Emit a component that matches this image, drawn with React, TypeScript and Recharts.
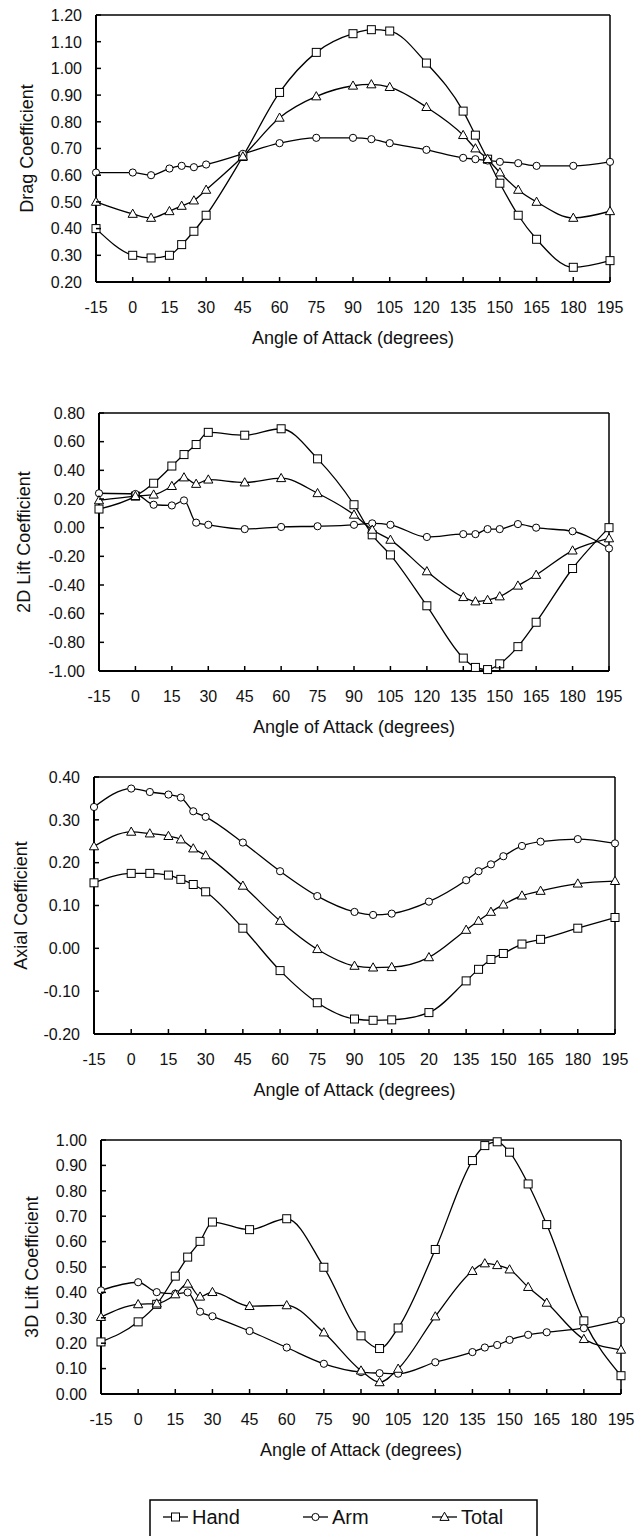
import React from 'react'
import { LineChart, Line, XAxis, YAxis, ReferenceLine } from 'recharts'

const FONT = '"Liberation Sans", Arial, sans-serif'

// angle of attack (degrees), shared by all panels
const ANGLES = [-15, 0, 7.5, 15, 20, 25, 30, 45, 60, 75, 90, 97.5, 105, 120, 135, 140, 145, 150, 157.5, 165, 180, 195]
const X_TICKS = [-15, 0, 15, 30, 45, 60, 75, 90, 105, 120, 135, 150, 165, 180, 195]

const DRAG_HAND = [0.4, 0.3, 0.29, 0.3, 0.34, 0.39, 0.45, 0.67, 0.91, 1.06, 1.13, 1.145, 1.14, 1.02, 0.84, 0.75, 0.66, 0.57, 0.45, 0.36, 0.255, 0.28]
const DRAG_ARM = [0.61, 0.61, 0.6, 0.625, 0.635, 0.63, 0.64, 0.68, 0.72, 0.74, 0.74, 0.735, 0.72, 0.695, 0.665, 0.66, 0.655, 0.65, 0.645, 0.635, 0.635, 0.65]
const DRAG_TOTAL = [0.5, 0.455, 0.44, 0.465, 0.485, 0.505, 0.545, 0.67, 0.815, 0.895, 0.935, 0.94, 0.93, 0.855, 0.75, 0.7, 0.66, 0.61, 0.545, 0.5, 0.44, 0.465]
const DRAG_TICKS = [0.2, 0.3, 0.4, 0.5, 0.6, 0.7, 0.8, 0.9, 1.0, 1.1, 1.2]

const LIFT2D_HAND = [0.13, 0.22, 0.31, 0.43, 0.51, 0.58, 0.665, 0.645, 0.69, 0.48, 0.16, -0.05, -0.19, -0.545, -0.91, -0.975, -0.99, -0.95, -0.83, -0.66, -0.285, 0.0]
const LIFT2D_ARM = [0.24, 0.235, 0.16, 0.155, 0.19, 0.035, 0.02, -0.01, 0.005, 0.01, 0.02, 0.03, 0.02, -0.065, -0.045, -0.045, -0.01, -0.01, 0.025, 0.0, -0.025, -0.145]
const LIFT2D_TOTAL = [0.19, 0.22, 0.23, 0.29, 0.35, 0.305, 0.335, 0.315, 0.345, 0.24, 0.09, -0.015, -0.085, -0.305, -0.485, -0.515, -0.505, -0.48, -0.405, -0.33, -0.16, -0.075]
const LIFT2D_TICKS = [-1.0, -0.8, -0.6, -0.4, -0.2, 0.0, 0.2, 0.4, 0.6, 0.8]

const AXIAL_HAND = [0.153, 0.175, 0.175, 0.171, 0.161, 0.149, 0.132, 0.047, -0.052, -0.127, -0.165, -0.168, -0.167, -0.15, -0.076, -0.049, -0.026, -0.012, 0.01, 0.021, 0.047, 0.072]
const AXIAL_ARM = [0.33, 0.373, 0.365, 0.359, 0.352, 0.32, 0.307, 0.247, 0.18, 0.122, 0.085, 0.078, 0.081, 0.109, 0.159, 0.18, 0.196, 0.215, 0.239, 0.249, 0.255, 0.245]
const AXIAL_TOTAL = [0.238, 0.272, 0.268, 0.262, 0.254, 0.233, 0.217, 0.146, 0.064, -0.002, -0.041, -0.045, -0.044, -0.021, 0.043, 0.064, 0.085, 0.102, 0.123, 0.134, 0.151, 0.157]
const AXIAL_TICKS = [-0.2, -0.1, 0.0, 0.1, 0.2, 0.3, 0.4]

const LIFT3D_HAND = [0.205, 0.284, 0.353, 0.464, 0.539, 0.601, 0.677, 0.647, 0.69, 0.499, 0.229, 0.179, 0.26, 0.569, 0.919, 0.978, 0.993, 0.952, 0.827, 0.667, 0.288, 0.072]
const LIFT3D_ARM = [0.408, 0.44, 0.401, 0.395, 0.4, 0.324, 0.306, 0.248, 0.183, 0.119, 0.086, 0.082, 0.08, 0.125, 0.165, 0.183, 0.193, 0.213, 0.233, 0.243, 0.259, 0.29]
const LIFT3D_TOTAL = [0.303, 0.353, 0.356, 0.392, 0.434, 0.383, 0.401, 0.346, 0.349, 0.242, 0.092, 0.046, 0.099, 0.305, 0.484, 0.514, 0.507, 0.49, 0.421, 0.359, 0.216, 0.174]
const LIFT3D_TICKS = [0.0, 0.1, 0.2, 0.3, 0.4, 0.5, 0.6, 0.7, 0.8, 0.9, 1.0]

const toRows = (hand: number[], arm: number[], total: number[]) =>
  ANGLES.map((angle, i) => ({ angle, hand: hand[i], arm: arm[i], total: total[i] }))

type Shape = 'square' | 'circle' | 'triangle'

function Marker({ shape, cx, cy }: { shape: Shape; cx: number; cy: number }) {
  const common = { fill: '#fff', stroke: '#000', strokeWidth: 1 }
  if (shape === 'square') return <rect x={cx - 4} y={cy - 4} width={8} height={8} {...common} />
  if (shape === 'circle') return <circle cx={cx} cy={cy} r={3.6} {...common} />
  return <polygon points={`${cx},${cy - 4.8} ${cx - 4.6},${cy + 3.4} ${cx + 4.6},${cy + 3.4}`} {...common} />
}

const dotFor = (shape: Shape) => (props: any) =>
  props.cx == null ? <g key={props.index} /> : <Marker key={props.index} shape={shape} cx={props.cx} cy={props.cy} />

function XTick({ x, y, payload, fmt }: any) {
  return (
    <g>
      <line x1={x} y1={y} x2={x} y2={y - 5} stroke="#000" strokeWidth={1.5} />
      <text x={x} y={y + 31} textAnchor="middle" fontSize={16} fill="#111" fontFamily={FONT}>
        {fmt ? fmt(payload.value) : payload.value}
      </text>
    </g>
  )
}

function YTick({ x, y, payload }: any) {
  return (
    <g>
      <line x1={x} y1={y} x2={x + 5} y2={y} stroke="#000" strokeWidth={1.5} />
      <text x={x - 14} y={y + 5.8} textAnchor="end" fontSize={16} fill="#111" fontFamily={FONT}>
        {Number(payload.value).toFixed(2)}
      </text>
    </g>
  )
}

interface PanelProps {
  top: number
  plotTop: number
  plotBottom: number
  plotLeft: number
  plotRight: number
  titleX: number
  yTitle: string
  yTicks: number[]
  rows: ReturnType<typeof toRows>
  xFmt?: (v: number) => string
}

function Panel({ top, plotTop, plotBottom, plotLeft, plotRight, titleX, yTitle, yTicks, rows, xFmt }: PanelProps) {
  const axisH = 70
  const height = plotBottom - top + axisH
  const yMin = yTicks[0]
  const yMax = yTicks[yTicks.length - 1]
  return (
    <div style={{ position: 'absolute', left: 0, top }}>
      <LineChart
        width={637}
        height={height}
        data={rows}
        margin={{ top: plotTop - top, right: 637 - plotRight, bottom: 0, left: 0 }}
      >
        <XAxis
          dataKey="angle"
          type="number"
          domain={[-15, 195]}
          ticks={X_TICKS}
          interval={0}
          height={axisH}
          tickSize={0}
          tickMargin={0}
          tickLine={false}
          axisLine={{ stroke: '#000', strokeWidth: 2 }}
          tick={<XTick fmt={xFmt} />}
          label={{
            value: 'Angle of Attack (degrees)',
            position: 'insideBottom',
            offset: 8,
            style: { fontSize: 18, fill: '#111', fontFamily: FONT },
          }}
        />
        <YAxis
          type="number"
          domain={[yMin, yMax]}
          ticks={yTicks}
          interval={0}
          width={plotLeft}
          tickSize={0}
          tickMargin={0}
          tickLine={false}
          axisLine={{ stroke: '#000', strokeWidth: 2 }}
          tick={<YTick />}
          label={{
            value: yTitle,
            angle: -90,
            position: 'insideLeft',
            offset: titleX,
            style: { textAnchor: 'middle', fontSize: 18, fill: '#111', fontFamily: FONT },
          }}
        />
        <ReferenceLine y={yMax} stroke="#000" strokeWidth={1.5} />
        <ReferenceLine x={195} stroke="#000" strokeWidth={1.5} />
        <Line type="monotone" dataKey="hand" stroke="#000" strokeWidth={1.3} dot={dotFor('square')} isAnimationActive={false} />
        <Line type="monotone" dataKey="arm" stroke="#000" strokeWidth={1.3} dot={dotFor('circle')} isAnimationActive={false} />
        <Line type="monotone" dataKey="total" stroke="#000" strokeWidth={1.3} dot={dotFor('triangle')} isAnimationActive={false} />
      </LineChart>
    </div>
  )
}

const LEGEND_ITEMS: { label: string; shape: Shape }[] = [
  { label: 'Hand', shape: 'square' },
  { label: 'Arm', shape: 'circle' },
  { label: 'Total', shape: 'triangle' },
]

function LegendBox() {
  const starts = [163, 303, 432]
  return (
    <svg style={{ position: 'absolute', left: 0, top: 1490 }} width={637} height={46}>
      <rect x={150} y={10} width={387} height={50} fill="#fff" stroke="#000" strokeWidth={1.5} />
      {LEGEND_ITEMS.map((it, i) => {
        const x0 = starts[i]
        return (
          <g key={it.label}>
            <line x1={x0} y1={27} x2={x0 + 25} y2={27} stroke="#000" strokeWidth={1.3} />
            <Marker shape={it.shape} cx={x0 + 12.5} cy={27} />
            <text x={x0 + 29} y={34} fontSize={20} fill="#111" fontFamily={FONT}>
              {it.label}
            </text>
          </g>
        )
      })}
    </svg>
  )
}

export default function App() {
  return (
    <div style={{ position: 'absolute', left: 0, top: 0, width: 637, height: 1536, background: '#fff', overflow: 'hidden' }}>
      <Panel top={0} plotTop={15} plotBottom={282} plotLeft={96} plotRight={610} titleX={27}
        yTitle="Drag Coefficient" yTicks={DRAG_TICKS} rows={toRows(DRAG_HAND, DRAG_ARM, DRAG_TOTAL)} />
      <Panel top={390} plotTop={413} plotBottom={671} plotLeft={99} plotRight={609} titleX={24}
        yTitle="2D Lift Coefficient" yTicks={LIFT2D_TICKS} rows={toRows(LIFT2D_HAND, LIFT2D_ARM, LIFT2D_TOTAL)} />
      <Panel top={755} plotTop={777} plotBottom={1034} plotLeft={94} plotRight={615} titleX={21}
        yTitle="Axial Coefficient" yTicks={AXIAL_TICKS} rows={toRows(AXIAL_HAND, AXIAL_ARM, AXIAL_TOTAL)}
        xFmt={(v) => (v === 120 ? '20' : String(v))} />
      <Panel top={1118} plotTop={1140} plotBottom={1394} plotLeft={101} plotRight={621} titleX={32}
        yTitle="3D Lift Coefficient" yTicks={LIFT3D_TICKS} rows={toRows(LIFT3D_HAND, LIFT3D_ARM, LIFT3D_TOTAL)} />
      <LegendBox />
    </div>
  )
}
